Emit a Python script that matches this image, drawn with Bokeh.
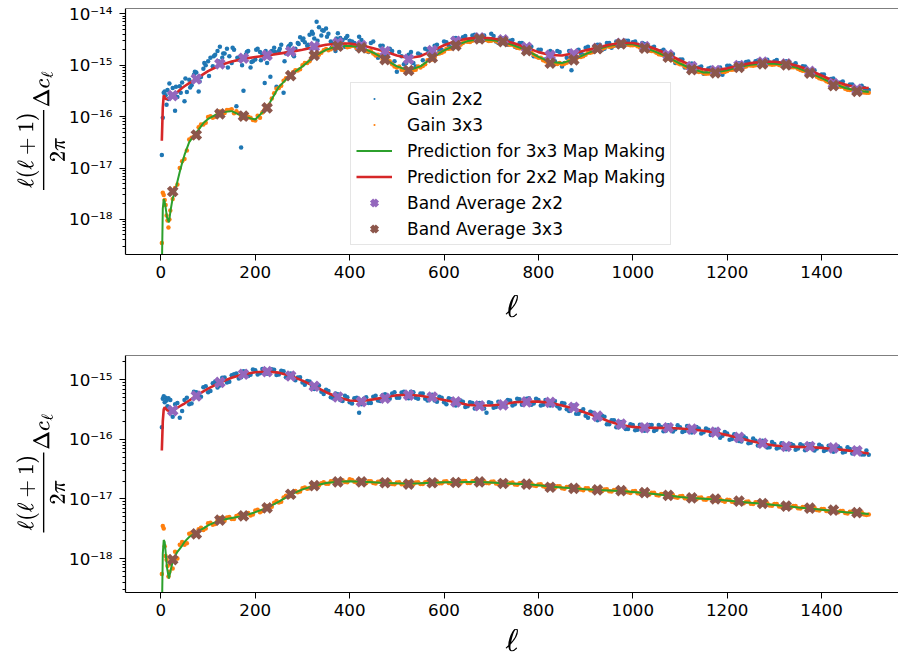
from bokeh.plotting import figure
from bokeh.layouts import column
from bokeh.models import FixedTicker, Legend, LegendItem, Span, TeX, CustomJSTickFormatter
from bokeh.embed import file_html
from bokeh.resources import INLINE

# ---------------- data ----------------
U16 = 1e-16   # unit of the 2x2 series
U18 = 1e-18   # unit of the 3x3 series

pred_ell = [2, 4, 6, 8, 10, 13, 17, 21, 25, 30, 35, 40, 45, 50, 60, 70, 80, 90, 100] + list(range(125, 1501, 25))
band_ell = list(range(25, 1500, 50))
scatter_ell = [2, 4, 6, 8, 10, 12, 14, 16, 18, 20, 25, 30] + list(range(40, 1501, 10))
extra_ell = list(range(35, 1500, 10))
cloud_ell = list(range(32, 400, 10))

x_ticks = [0, 200, 400, 600, 800, 1000, 1200, 1400]
top_decades = [1e-18, 1e-17, 1e-16, 1e-15, 1e-14]
bot_decades = [1e-18, 1e-17, 1e-16, 1e-15]

# ---- top panel ----
top_pred22 = [0.34, 1.5, 2.6, 2.4, 2.2, 2.2, 2.3, 2.45, 2.6, 2.8, 3.0, 3.3, 3.6, 3.9, 4.5, 5.1, 5.8, 6.7, 7.7,
              10, 11.8, 13.3, 14.5, 15.5, 16.8, 18.2, 20, 22.5, 25,
              26.5, 26.5, 24.5, 21.5, 18.5, 15.5, 13.8, 15, 19, 24.5,
              29.5, 33, 34.5, 33.5, 30.5, 26.5, 22, 18, 15.8, 15.5,
              17, 19.5, 22, 25, 27, 27, 24.5, 20.5, 16.2, 12.5,
              9.8, 8.3, 8.0, 8.7, 9.9, 11, 11.7, 11.7, 11, 9.7,
              8.0, 6.3, 5.0, 4.2, 3.7, 3.6]
top_pred33 = [0.1, 1.6, 2.5, 2.2, 1.7, 1.1, 0.88, 1.6, 2.6, 3.4, 5.5, 8.5, 12.5, 18, 32, 43, 56, 75, 90,
              120, 128, 100, 88, 150, 380, 650, 950, 1500, 2000,
              2350, 2400, 2200, 1750, 1300, 950, 800, 950, 1400, 1950,
              2450, 2950, 3200, 3100, 2850, 2400, 1950, 1450, 1150, 1100,
              1300, 1650, 2050, 2400, 2600, 2550, 2200, 1800, 1420, 1080,
              850, 720, 720, 800, 920, 1020, 1070, 1070, 1010, 880,
              710, 560, 440, 360, 320, 300]
top_band22 = [2.57, 5.4, 10.6, 13.7, 15.5, 18.5, 23.1, 27.3, 24.1, 18.5,
              13.1, 19.3, 29.3, 34.1, 31.2, 22.4, 15.5, 16.6, 21.4, 26.8,
              23.1, 15.9, 9.4, 7.9, 9.9, 11.5, 10.6, 7.6, 4.4, 3.4]
top_band33 = [3.5, 44, 113, 102, 148, 630, 1550, 2340, 2180, 1290,
              790, 1400, 2410, 3260, 2890, 1930, 1100, 1270, 2090, 2600,
              2140, 1430, 820, 710, 910, 1060, 1020, 700, 400, 310]
top_gain22 = [0.18, 0.95, 2.9, 3.1, 2.6, 1.7, 3.3, 2.2, 4.4, 2.8, 3.6, 1.3,
              3.9, 2.0, 5.2, 6.5, 3.1, 8.5, 12, 9.6, 19, 14,
              21, 11, 1.6, 0.25, 16, 9, 13, 18, 4.5, 14,
              22, 19, 2.9, 23, 16, 27, 31, 24, 45, 70,
              38, 52, 29, 19, 34, 23, 30, 27, 36, 22,
              18, 29, 14, 24, 12, 19, 7.5, 15, 11, 18,
              9.5, 16, 21, 13, 24, 19, 29, 24, 33, 27,
              35, 30, 38, 33, 36, 31, 41, 29, 34, 26,
              30, 23, 27, 19, 24, 15, 20, 13, 17, 12,
              19, 9.5, 14, 8, 18, 17, 22, 19, 23, 25,
              21, 27, 24, 29, 26, 30, 28, 25, 27, 21,
              22, 18, 19, 14, 16, 11, 13, 9, 10.5, 8,
              9, 6.8, 8.6, 7.2, 8.2, 6.5, 9.8, 9, 10.5, 9.4,
              11.5, 10.4, 12, 11, 12.5, 11.3, 12, 10.8, 11.6, 9.9,
              10.2, 8.7, 9.6, 7.6, 7.9, 6.3, 6.6, 5.2, 5.4, 4.4,
              4.6, 3.9, 4.2, 3.5, 3.7, 3.6, 3.3]
top_gain22_extra = [2.4, 4.6, 3.0, 4.1, 7.2, 5.9, 10, 14, 16, 23,
                    17, 15, 20, 13, 3.2, 19, 12, 21, 16, 11,
                    19, 3.8, 25, 17, 26, 21, 35, 28, 39, 33,
                    55, 47, 41, 26, 42, 31, 37,
                    29, 21, 31, 19, 27, 16, 24, 15, 21, 12,
                    18, 10.5, 16, 11, 17, 12.5, 20, 16, 25, 20,
                    28, 22, 34, 26, 37, 29, 39, 30, 38, 30,
                    37, 27, 33, 25, 31, 22, 27, 18, 23, 15,
                    20, 13, 19, 12, 18, 11, 19, 13.5, 20, 16,
                    23, 18, 25, 20, 27, 22, 29, 24, 30, 25,
                    29, 23, 26, 20, 23, 17, 20, 14, 16.5, 11.5,
                    13, 9.5, 10.8, 8.3, 9.4, 7.3, 8.9, 7.1, 9.0, 7.7,
                    9.8, 8.5, 10.9, 9.5, 11.8, 10.2, 12.4, 10.8, 12.8, 10.9,
                    12.6, 10.4, 11.9, 9.7, 10.9, 8.6, 9.5, 7.3, 8.0, 6.1,
                    6.6, 5.0, 5.5, 4.3, 4.8, 3.8, 4.2, 3.4, 4.0, 3.4]
top_gain22_cloud = [3.8, 2.9, 5.5, 3.7, 7.5, 4.8, 11, 6.2, 15, 12,
                    17, 9, 22, 14, 10, 18, 11.5, 20, 12.5, 19,
                    6.0, 18, 21, 12, 24, 15, 26, 33, 25, 41,
                    30, 48, 36, 22, 33, 25, 34]
top_gain33 = [0.35, 3.3, 3.0, 2.4, 1.9, 1.2, 0.95, 0.7, 1.0, 1.5, 2.5, 4.1,
              10, 15, 36, 40, 62, 70, 98, 95, 122, 118,
              135, 140, 128, 100, 92, 95, 84, 95, 140, 170,
              285, 360, 500, 570, 730, 790, 1000, 1100, 1450, 1550,
              1750, 2080, 2050, 2380, 2250, 2500, 2300, 2400, 2150, 2200,
              1850, 1700, 1600, 1300, 1180, 1050, 900, 820, 760, 780,
              820, 900, 1050, 1250, 1420, 1700, 1850, 2100, 2250, 2500,
              2700, 2850, 3000, 3050, 3150, 3100, 3000, 2950, 2850, 2700,
              2500, 2350, 2150, 1950, 1800, 1600, 1400, 1250, 1120, 1080,
              1060, 1050, 1120, 1200, 1330, 1450, 1600, 1750, 1900, 2050,
              2200, 2300, 2400, 2500, 2500, 2500, 2450, 2350, 2200, 2100,
              1900, 1750, 1600, 1450, 1300, 1180, 1040, 940, 860, 800,
              740, 700, 690, 680, 700, 740, 770, 820, 870, 900,
              940, 990, 1000, 1030, 1030, 1040, 1030, 1010, 990, 960,
              910, 850, 780, 720, 650, 600, 540, 490, 445, 410,
              380, 350, 330, 315, 300, 295, 290]
top_gain33_extra = [4.8, 13.5, 22, 39, 46, 70, 76, 102, 100, 126,
                    118, 135, 117, 117, 95, 100, 86, 104, 120, 157,
                    225, 350, 400, 560, 610, 800, 840, 1100, 1200, 1560,
                    1600, 1950, 1950, 2280, 2200, 2450, 2250, 2400, 2150, 2250,
                    1900, 1900, 1550, 1520, 1220, 1190, 950, 950, 800, 780,
                    800, 940, 970, 1250, 1300, 1650, 1740, 2100, 2120, 2500,
                    2500, 2900, 2820, 3150, 3050, 3200, 2950, 3100, 2800, 2850,
                    2550, 2500, 2200, 2150, 1850, 1780, 1480, 1400, 1200, 1140,
                    1060, 1100, 1070, 1220, 1220, 1450, 1500, 1750, 1800, 2050,
                    2080, 2330, 2320, 2520, 2480, 2580, 2450, 2480, 2220, 2200,
                    1940, 1880, 1640, 1570, 1350, 1280, 1090, 1030, 890, 850,
                    760, 750, 680, 720, 680, 750, 740, 820, 830, 920,
                    910, 1000, 980, 1050, 1020, 1070, 1020, 1060, 980, 1010,
                    910, 910, 810, 780, 670, 650, 560, 530, 465, 440,
                    390, 380, 335, 335, 305, 310, 290]

# ---- bottom panel ----
bot_pred22 = [0.65, 2.0, 3.2, 3.45, 3.3, 3.1, 3.0, 3.05, 3.1, 3.25, 3.4, 3.6, 3.8, 4.0, 4.5, 5.1, 5.7, 6.4, 7.1,
              9.0, 10.8, 12.4, 13.4, 13.8, 13.2, 11.7, 9.7, 7.8, 6.2,
              5.1, 4.5, 4.4, 4.7, 5.1, 5.5, 5.6, 5.4, 5.0, 4.6,
              4.2, 3.8, 3.7, 3.7, 3.9, 4.2, 4.3, 4.3, 4.1, 3.7,
              3.3, 2.8, 2.4, 2.0, 1.75, 1.62, 1.57, 1.56, 1.55, 1.52,
              1.47, 1.40, 1.30, 1.18, 1.05, 0.94, 0.85, 0.79, 0.76, 0.75,
              0.74, 0.72, 0.69, 0.66, 0.62, 0.58]
bot_pred33 = [0.1, 1.2, 2.05, 1.9, 1.3, 0.7, 0.46, 0.65, 0.9, 1.1, 1.3, 1.45, 1.65, 1.9, 2.3, 2.6, 2.9, 3.2, 3.6,
              4.4, 4.8, 5.2, 6.0, 7.1, 9.0, 11.8, 14.5, 16.7, 18.5,
              19.5, 19.8, 19.5, 19.0, 18.6, 18.3, 18.2, 18.4, 18.7, 19.0,
              19.1, 19.2, 19.2, 18.9, 18.4, 18.0, 17.6, 17.0, 16.2, 15.6,
              15.1, 14.6, 14.2, 13.9, 13.6, 13.1, 12.6, 12.0, 11.4, 10.8,
              10.4, 10.1, 9.8, 9.4, 9.0, 8.6, 8.3, 7.9, 7.6, 7.2,
              6.9, 6.6, 6.3, 6.0, 5.8, 5.6]
bot_band22 = [3.04, 5.35, 9.05, 12.4, 13.7, 11.6, 7.8, 5.15, 4.3, 4.9,
              5.55, 5.15, 4.26, 3.67, 3.8, 4.26, 4.17, 3.45, 2.46, 1.8,
              1.57, 1.57, 1.49, 1.32, 1.08, 0.86, 0.76, 0.76, 0.72, 0.64]
bot_band33 = [0.96, 2.6, 4.4, 5.2, 7.1, 12, 16.7, 19.4, 19.4, 18.7,
              17.8, 18.7, 18.9, 19.4, 18.2, 17.8, 15.7, 15.1, 14.2, 13.8,
              12.8, 11.5, 10.4, 10.0, 9.2, 8.4, 7.6, 7.0, 6.5, 5.9]
bot_gain22 = [1.6, 4.8, 5.3, 4.2, 5.0, 4.5, 3.6, 4.9, 3.4, 4.6, 2.4, 3.9,
              2.3, 4.6, 3.9, 6.3, 5.0, 7.5, 6.2, 8.8, 7.4, 10.8,
              9.0, 11.9, 12.8, 11.0, 13.7, 12.2, 14.5, 12.9, 15.0, 14.2,
              14.8, 12.3, 13.9, 11.2, 12.0, 10.9, 9.0, 9.6, 7.6, 8.3,
              6.3, 6.8, 5.1, 5.9, 4.6, 5.4, 4.2, 4.9, 2.8, 4.8,
              4.1, 5.2, 4.5, 5.5, 4.8, 5.9, 5.0, 6.1, 5.2, 6.3,
              5.0, 5.9, 4.8, 5.4, 4.5, 5.2, 4.2, 4.9, 4.0, 4.6,
              4.3, 3.6, 4.1, 3.4, 3.9, 2.8, 4.1, 3.5, 4.0, 3.7,
              4.5, 3.9, 4.7, 4.2, 4.9, 4.0, 4.6, 3.8, 4.4, 4.2,
              3.6, 4.1, 3.2, 3.6, 2.7, 3.0, 2.5, 2.9, 2.3, 2.2,
              2.4, 1.8, 2.1, 1.6, 1.9, 1.5, 1.75, 1.45, 1.7, 1.5,
              1.75, 1.45, 1.62, 1.4, 1.68, 1.48, 1.6, 1.38, 1.58, 1.42,
              1.52, 1.32, 1.45, 1.25, 1.34, 1.15, 1.25, 1.02, 1.16, 0.92,
              1.05, 0.88, 0.95, 0.8, 0.88, 0.74, 0.84, 0.73, 0.82, 0.72,
              0.8, 0.7, 0.79, 0.69, 0.78, 0.7, 0.77, 0.67, 0.74, 0.66,
              0.71, 0.62, 0.69, 0.6, 0.64, 0.56, 0.55]
bot_gain22_extra = [4.1, 3.0, 5.0, 4.0, 6.2, 5.2, 7.8, 6.5, 9.4, 8.0,
                    10.9, 9.3, 12.4, 10.5, 13.9, 11.6, 14.9, 12.3, 15.2, 12.6,
                    15.0, 12.1, 14.2, 11.0, 12.8, 9.8, 11.0, 8.3, 9.4, 7.0,
                    8.0, 5.8, 6.5, 4.9, 5.7, 4.4, 5.1, 4.0, 5.0, 3.9,
                    5.1, 4.1, 5.4, 4.4, 5.7, 4.8, 6.2, 5.0, 6.3, 4.9,
                    6.2, 4.8, 5.9, 4.5, 5.6, 4.3, 5.0, 3.9, 4.7, 3.7,
                    4.5, 3.5, 4.2, 3.3, 4.1, 3.3, 4.2, 3.4, 4.3, 3.6,
                    4.6, 3.7, 4.8, 3.8, 4.8, 3.8, 4.8, 3.7, 4.6, 3.7,
                    4.4, 3.3, 4.0, 3.0, 3.7, 2.7, 3.2, 2.3, 2.8, 2.1,
                    2.5, 1.8, 2.1, 1.6, 1.95, 1.5, 1.8, 1.42, 1.76, 1.4,
                    1.75, 1.38, 1.74, 1.37, 1.73, 1.36, 1.72, 1.33, 1.68, 1.3,
                    1.61, 1.26, 1.53, 1.18, 1.45, 1.07, 1.33, 0.99, 1.22, 0.94,
                    1.12, 0.86, 1.03, 0.79, 0.95, 0.73, 0.9, 0.7, 0.86, 0.68,
                    0.84, 0.67, 0.83, 0.66, 0.83, 0.65, 0.81, 0.64, 0.78, 0.62,
                    0.76, 0.6, 0.74, 0.58, 0.69, 0.56, 0.65]
bot_gain33 = [0.55, 3.5, 3.2, 1.6, 1.1, 0.95, 0.75, 0.5, 0.6, 0.8, 0.68, 1.3,
              1.7, 1.7, 2.6, 2.4, 3.1, 3.0, 3.9, 3.7, 4.4, 4.3,
              4.9, 4.6, 5.2, 4.8, 5.6, 5.3, 6.4, 6.0, 7.4, 7.1,
              8.6, 8.7, 10.6, 10.9, 12.9, 13.0, 15.1, 14.9, 17.0, 16.6,
              18.4, 18.0, 19.9, 19.0, 20.5, 19.2, 21.5, 19.4, 20.3, 18.9,
              19.8, 18.5, 19.4, 18.1, 19.0, 17.9, 18.9, 17.6, 18.8, 17.7,
              18.9, 17.8, 19.1, 18.1, 19.4, 18.4, 19.6, 18.5, 19.8, 18.6,
              19.8, 18.6, 19.9, 18.7, 19.7, 18.5, 19.4, 18.2, 19.0, 17.8,
              18.6, 17.5, 18.4, 17.2, 18.0, 16.8, 17.5, 16.3, 16.9, 15.7,
              16.3, 15.1, 15.9, 14.8, 15.5, 14.4, 15.1, 14.0, 14.7, 13.7,
              14.4, 13.5, 14.2, 13.3, 13.9, 12.9, 13.5, 12.5, 13.1, 12.1,
              12.7, 11.6, 12.1, 11.2, 11.7, 10.7, 11.1, 10.3, 10.7, 10.0,
              10.5, 9.8, 10.3, 9.6, 10.1, 9.3, 9.7, 9.0, 9.4, 8.6,
              9.0, 8.3, 8.8, 8.1, 8.5, 7.8, 8.2, 7.5, 7.9, 7.3,
              7.6, 7.0, 7.3, 6.7, 7.0, 6.5, 6.8, 6.3, 6.6, 6.0,
              6.3, 5.8, 6.1, 5.6, 5.9, 5.5, 5.5]
bot_gain33_extra = [1.0, 1.9, 1.8, 2.7, 2.5, 3.3, 3.2, 4.0, 3.8, 4.8,
                    4.3, 5.0, 4.6, 5.4, 5.0, 5.8, 5.5, 6.6, 6.3, 7.6,
                    7.4, 9.2, 9.0, 11.3, 11.2, 13.6, 13.4, 15.6, 15.1, 17.4,
                    16.8, 19.0, 18.0, 19.9, 18.8, 20.6, 19.0, 20.8, 18.9, 20.3,
                    18.6, 19.9, 18.2, 19.6, 18.0, 19.4, 17.7, 19.1, 17.6, 19.0,
                    17.6, 19.1, 17.8, 19.4, 18.0, 19.7, 18.3, 19.8, 18.4, 19.9,
                    18.5, 20.0, 18.5, 20.0, 18.5, 19.8, 18.3, 19.6, 17.9, 19.2,
                    17.6, 18.9, 17.3, 18.6, 17.0, 18.1, 16.5, 17.6, 15.9, 16.9,
                    15.4, 16.4, 14.9, 16.0, 14.6, 15.6, 14.0, 15.1, 13.9, 14.8,
                    13.6, 14.6, 13.3, 14.3, 13.1, 13.9, 12.6, 13.6, 12.3, 13.2,
                    11.9, 12.7, 11.4, 12.1, 11.0, 11.6, 10.5, 11.2, 10.2, 10.9,
                    9.9, 10.6, 9.7, 10.3, 9.4, 9.9, 9.0, 9.6, 8.8, 9.4,
                    8.5, 9.1, 8.2, 8.8, 8.0, 8.5, 7.7, 8.2, 7.4, 7.9,
                    7.2, 7.6, 6.9, 7.3, 6.6, 7.1, 6.4, 6.8, 6.2, 6.6,
                    6.0, 6.3, 5.7, 6.1, 5.6, 6.0, 5.4]

# ---------------- styling ----------------
BLUE, ORANGE, GREEN, RED, PURPLE, BROWN = "#1f77b4", "#ff7f0e", "#2ca02c", "#d62728", "#9467bd", "#8c564b"
FONT = "DejaVu Sans"
FS = "16.7px"
DOT = 18
minor_ticks = [m * 10.0 ** e for e in range(-20, -13) for m in range(2, 10)]

pow_formatter = CustomJSTickFormatter(code="""
const e = Math.round(Math.log10(tick));
const sup = {"-": "\u207b", "0": "\u2070", "1": "\u00b9", "2": "\u00b2", "3": "\u00b3", "4": "\u2074",
             "5": "\u2075", "6": "\u2076", "7": "\u2077", "8": "\u2078", "9": "\u2079"};
return "10" + String(e).split("").map(c => sup[c]).join("");
""")


def scale(vals, unit):
    return [v * unit for v in vals]


def make_panel(height, y_range, decades, min_top, min_bottom, xlabel_standoff):
    p = figure(width=898, height=height, y_axis_type="log", x_range=(-75, 1563), y_range=y_range,
               output_backend="svg", toolbar_location=None,
               min_border_left=125, min_border_right=0, min_border_top=min_top, min_border_bottom=min_bottom)
    p.outline_line_color = None
    p.grid.visible = False
    p.background_fill_color = "white"
    p.border_fill_color = "white"
    p.xaxis.ticker = FixedTicker(ticks=x_ticks)
    p.yaxis.ticker = FixedTicker(ticks=decades, minor_ticks=minor_ticks)
    p.yaxis.formatter = pow_formatter
    p.axis.axis_line_color = "black"
    p.axis.axis_line_width = 1.2
    p.axis.major_tick_line_color = "black"
    p.axis.minor_tick_line_color = "black"
    p.axis.major_tick_in = 0
    p.axis.major_tick_out = 6
    p.axis.minor_tick_in = 0
    p.axis.minor_tick_out = 3
    p.axis.major_label_text_font = FONT
    p.axis.major_label_text_font_size = FS
    p.axis.major_label_text_color = "black"
    p.axis.axis_label_text_color = "black"
    p.xaxis.major_label_standoff = 5
    p.yaxis.major_label_standoff = 7
    p.xaxis.minor_tick_line_color = None
    p.xaxis.axis_label = TeX(text=r"\ell")
    p.xaxis.axis_label_text_font_size = "26px"
    p.xaxis.axis_label_standoff = xlabel_standoff
    p.yaxis.axis_label = TeX(text=r"\frac{\ell(\ell+1)}{2\pi}\Delta c_\ell")
    p.yaxis.axis_label_text_font_size = "18px"
    p.yaxis.axis_label_standoff = 1
    p.add_layout(Span(location=y_range[1], dimension="width", line_color="black", line_width=1.2))
    return p


def draw(p, g22, g22x, g33, g33x, pr33, pr22, b22, b33, cloud=None):
    r1 = p.scatter(scatter_ell, scale(g22, U16), size=DOT, color=BLUE, marker="dot")
    p.scatter(extra_ell, scale(g22x, U16), size=DOT, color=BLUE, marker="dot")
    if cloud is not None:
        p.scatter(cloud_ell, scale(cloud, U16), size=DOT, color=BLUE, marker="dot")
    r2 = p.scatter(scatter_ell, scale(g33, U18), size=DOT, color=ORANGE, marker="dot")
    p.scatter(extra_ell, scale(g33x, U18), size=DOT, color=ORANGE, marker="dot")
    r3 = p.line(pred_ell, scale(pr33, U18), line_width=2, color=GREEN)
    r4 = p.line(pred_ell, scale(pr22, U16), line_width=2.6, color=RED)
    r5 = p.scatter(band_ell, scale(b22, U16), marker="x", size=12, line_width=4.5, color=PURPLE)
    r6 = p.scatter(band_ell, scale(b33, U18), marker="x", size=12, line_width=4.5, color=BROWN)
    return [r1, r2, r3, r4, r5, r6]


p1 = make_panel(340, (2.08e-19, 1.27e-14), top_decades, 8, 86, 14)
rs = draw(p1, top_gain22, top_gain22_extra, top_gain33, top_gain33_extra,
          top_pred33, top_pred22, top_band22, top_band33, cloud=top_gain22_cloud)

labels = ["Gain 2x2", "Gain 3x3", "Prediction for 3x3 Map Making", "Prediction for 2x2 Map Making",
          "Band Average 2x2", "Band Average 3x3"]
legend = Legend(items=[LegendItem(label=l, renderers=[r]) for l, r in zip(labels, rs)],
                location=(225, 9), label_text_font=FONT, label_text_font_size="17px", label_text_color="black",
                glyph_width=36, glyph_height=21, label_height=21, label_standoff=15, spacing=5,
                padding=5, margin=0, border_line_color="#cccccc", border_line_width=1,
                background_fill_color="white", background_fill_alpha=0.8)
p1.add_layout(legend)

p2 = make_panel(321, (2.69e-19, 2.56e-15), bot_decades, 15, 62, 10)
draw(p2, bot_gain22, bot_gain22_extra, bot_gain33, bot_gain33_extra,
     bot_pred33, bot_pred22, bot_band22, bot_band33)

layout = column(p1, p2, spacing=0)
open("out.html", "w").write(file_html(layout, INLINE))
